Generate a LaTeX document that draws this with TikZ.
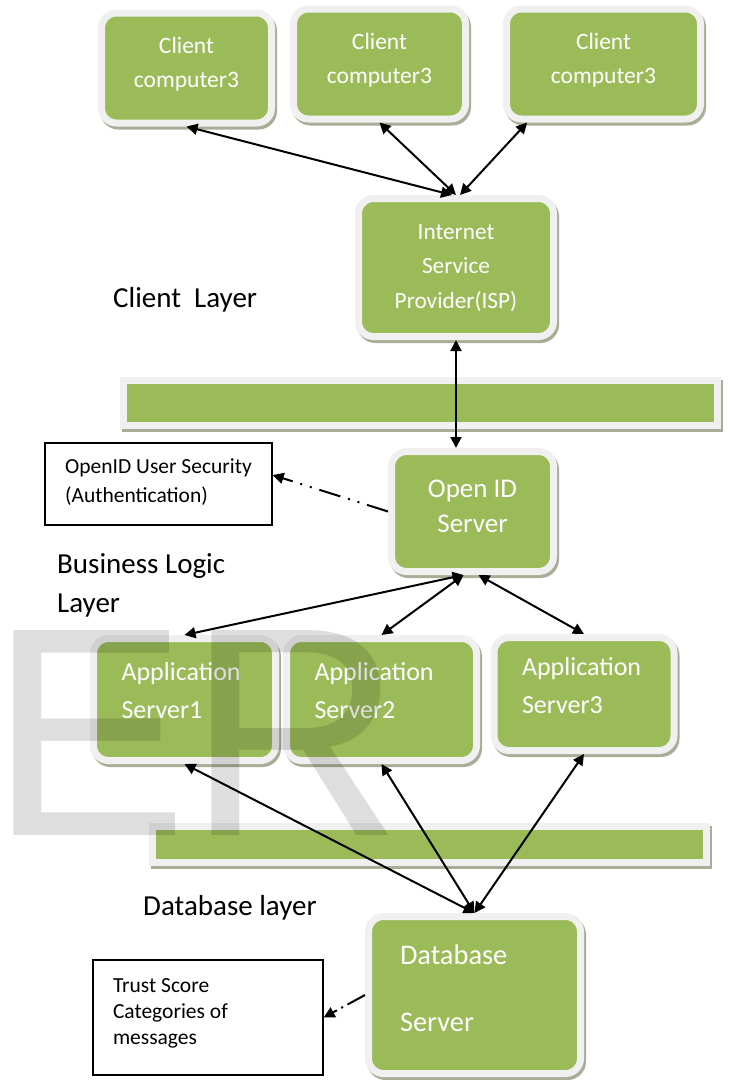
\documentclass[tikz,border=0pt]{standalone}
\usepackage{fontspec}
\setmainfont{Carlito}
\newfontfamily\markfont{Liberation Sans}
\usetikzlibrary{arrows.meta,calc}

\definecolor{boxgreen}{HTML}{9BBB59}
\definecolor{framegray}{HTML}{F0F0F0}
\definecolor{shadegray}{HTML}{A8AE96}

\newcommand\clientfont{\fontsize{23.5}{34}\selectfont}
\newcommand\ispfont{\fontsize{23.3}{34.5}\selectfont}
\newcommand\oidfont{\fontsize{27}{35}\selectfont}
\newcommand\appfont{\fontsize{26}{38}\selectfont}
\newcommand\dbfont{\fontsize{28.4}{67}\selectfont}
\newcommand\layerfont{\fontsize{29}{39}\selectfont}
\newcommand\notefont{\fontsize{21.5}{29}\selectfont}
\newcommand\trustfont{\fontsize{21.5}{26}\selectfont}

\begin{document}
\begin{tikzpicture}[x=1pt, y=-1pt,
  greenbox/.style={draw=framegray, fill=boxgreen, line width=7pt, rounded corners=15pt, text=white,
    preaction={draw=shadegray, line width=7pt, transform canvas={shift={(2pt,-3pt)}}}},
  leftbox/.style={greenbox, align=flush left, inner xsep=28pt},
  link/.style={{Triangle[length=11pt,width=11pt]}-{Triangle[length=11pt,width=11pt]}, line width=2pt},
  note/.style={draw, line width=1.3pt, align=flush left},
  layer/.style={font=\layerfont, anchor=west, align=flush left, inner sep=0pt}]
\useasboundingbox (0,0) rectangle (732,1080);

% client layer
\node[greenbox, minimum width=170pt, minimum height=110pt, align=flush center, font=\clientfont, text depth=11pt] (c1) at (186.5,68) {Client\\computer3};
\node[greenbox, minimum width=172pt, minimum height=110pt, align=flush center, font=\clientfont, text depth=11pt] (c2) at (379.5,64) {Client\\computer3};
\node[greenbox, minimum width=194pt, minimum height=110pt, align=flush center, font=\clientfont, text depth=11pt] (c3) at (603.5,64) {Client\\computer3};
\node[greenbox, minimum width=195pt, minimum height=138pt, align=flush center, font=\ispfont, text depth=2pt] (isp) at (456,267.5) {Internet\\Service\\Provider(ISP)};
\node[layer] (clientlayer) at (113,300) {Client\ \ Layer};

\node[greenbox, sharp corners, minimum width=594pt, minimum height=45pt] (bar1) at (420.75,402.5) {};

% business logic layer
\node[greenbox, minimum width=162pt, minimum height=120pt, align=flush center, font=\oidfont, text depth=10pt] (oid) at (472.5,511.5) {Open ID\\Server};
\node[note, font=\notefont, minimum width=227pt, minimum height=82pt, text depth=6pt] (auth) at (158.5,484) {OpenID User Security\\(Authentication)};
\node[layer] (logiclayer) at (57,585.5) {Business Logic\\Layer};

\node[leftbox, minimum width=182pt, minimum height=122pt, text width=126pt, font=\appfont, text depth=56pt] (app1) at (184.5,699.5) {Application\\Server1};
\node[leftbox, minimum width=190pt, minimum height=122pt, text width=134pt, font=\appfont, text depth=56pt] (app2) at (381.5,699.5) {Application\\Server2};
\node[leftbox, minimum width=180pt, minimum height=113pt, text width=124pt, font=\appfont, text depth=56pt] (app3) at (584,694) {Application\\Server3};

\node[greenbox, sharp corners, minimum width=554pt, minimum height=36pt] (bar2) at (429,844) {};

% database layer
\node[layer] (datalayer) at (143,908) {Database layer};
\node[leftbox, inner xsep=31.5pt, minimum width=212pt, minimum height=157pt, text width=149pt, font=\dbfont, text depth=80pt] (db) at (474.5,995) {Database\\Server};
\node[note, font=\trustfont, minimum width=230pt, minimum height=115pt, inner xsep=20pt, text width=190pt, text depth=63pt] (trust) at (208,1017.5) {Trust Score\\Categories of\\messages};

% watermark
\node[anchor=base west, inner sep=0pt, font=\markfont\fontsize{298}{298}\selectfont, text=black, text opacity=0.13] (mark) at (0,835) {\kern-11pt ER};

% connections
\draw[link] (c1.south) -- ($(isp.north)+(-4,0)$);
\draw[link] (c2.south) -- (isp.north);
\draw[link] ($(c3.south west)!0.12!(c3.south east)$) -- ($(isp.north)+(4,0)$);
\draw[link] (isp.south) -- (isp.south |- oid.north);
\draw[link] ($(oid.south)+(-9,0)$) -- (app1.north);
\draw[link] ($(oid.south)+(-9,0)$) -- (app2.north);
\draw[link] ($(oid.south)+(6,0)$) -- (app3.north);
\draw[link] (app1.south) -- (db.north);
\draw[link] (app2.south) -- (db.north);
\draw[link] (app3.south) -- (db.north);
\draw[-{Triangle[length=11pt,width=11pt]}, line width=2pt, dash pattern=on 22pt off 8pt on 2pt off 8pt on 2pt off 8pt] (oid.west) -- ($(auth.east)+(0,-9)$);
\draw[-{Triangle[length=11pt,width=11pt]}, line width=2pt, dash pattern=on 20pt off 5pt on 2pt off 5pt] (db.west) -- (trust.east);
\end{tikzpicture}
\end{document}
